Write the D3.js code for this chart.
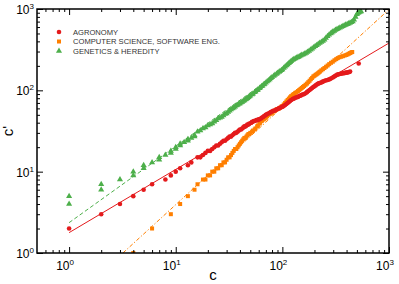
<!DOCTYPE html>
<html>
<head>
<meta charset="utf-8">
<script src="https://cdn.jsdelivr.net/npm/d3@7"></script>
<style>
  body { margin: 0; background: #fff; }
  svg { display: block; font-family: "Liberation Sans", Arial, sans-serif; }
</style>
</head>
<body>
<svg id="chart" width="399" height="284"></svg>
<script>
// [c, c'] pairs
const agronomy = [[1,2],[2,3],[3,4],[4,5],[5,6],[6,7],[8,8],[9,9],[10,10],[11,11],[13,12],[14,13],[16,15],[17,15],[18,16],[19,17],[20,18],[21,18],[22,19],[23,20],[24,21],[25,21],
  [26,22],[27,23],[28,24],[29,24],[30,25],[31,26],[32,27],[33,27],[34,28],[35,29],[36,30],[37,30],[38,31],[39,32],[40,33],[41,33],[42,34],[43,35],[44,36],[45,36],[46,37],[47,38],[48,38],[49,39],
  [51,40],[52,41],[54,42],[55,42],[57,43],[58,43],[60,44],[61,44],[63,45],[64,46],[66,47],[67,48],[69,49],[70,50],[72,51],[74,52],[76,53],[78,54],[80,55],[82,56],[84,56],[86,57],[88,58],[90,59],[93,60],[95,61],[98,62],
  [100,63],[103,64],[106,66],[109,68],[112,70],[115,72],[118,74],[121,76],[125,78],[128,79],[132,81],[136,82],[140,83],[144,85],[148,86],[152,88],[156,89],[160,90],[165,92],[170,95],[175,98],[180,101],[185,104],[190,107],[195,110],
  [200,112],[205,115],[210,118],[215,120],[220,122],[225,123],[231,125],[237,127],[243,129],[250,131],[258,133],[266,134],[273,136],[280,138],[288,141],[297,144],[304,147],[312,150],[320,153],[328,156],[336,158],[345,159],[353,160],[362,161],[371,162],[380,163],[389,164],[398,165],[406,166],[415,167],[423,168],[432,170],[520,214]];

const compSci = [[4,1],[6,2],[9,3],[11,4],[13,5],[15,6],[16,7],[18,8],[19,8],[20,9],[21,9],[22,10],[23,10],[24,11],[25,11],[26,12],[27,12],[28,13],[29,13],[30,14],[31,15],[32,15],[33,16],[34,17],[35,18],
  [36,19],[37,19],[38,20],[39,21],[40,22],[41,23],[42,24],[43,25],[44,26],[45,26],[46,27],[47,28],[48,29],[49,29],[50,30],[52,31],[53,32],[55,33],[56,34],[58,36],[59,37],[61,39],[62,40],[64,42],[65,43],[67,44],[68,45],
  [70,46],[72,48],[74,50],[76,51],[78,52],[80,53],[83,55],[85,56],[88,58],[90,59],[93,60],[95,61],[98,63],[100,64],[103,67],[106,70],[109,73],[112,76],[115,79],[118,82],[121,85],[125,88],[128,90],[132,93],[136,95],
  [140,98],[144,101],[148,104],[152,107],[156,110],[160,113],[165,117],[170,121],[175,126],[180,131],[185,137],[190,142],[195,148],[200,151],[205,155],[210,158],[215,162],[220,166],[225,170],[232,176],[240,182],[248,188],
  [257,195],[266,202],[275,210],[286,218],[297,225],[308,234],[320,242],[331,249],[343,255],[356,259],[370,263],[384,268],[398,272],[409,277],[420,282],[431,287],[442,292],[452,296]];

const genetics = [[1,5],[1,4],[2,7],[2,6],[3,8],[4,10],[4,9],[5,12],[5,11],[6,13],[7,15],[7,14],[8,16],[9,18],[9,17],[10,20],[10,19],[11,22],[11,21],[12,23],[13,25],[13,24],[14,26],[15,28],[15,27],
  [16,31],[17,32],[18,34],[19,35],[20,37],[21,38],[22,39],[23,41],[24,43],[25,45],[26,46],[27,47],[28,49],[29,51],[30,52],[31,54],[32,56],[33,58],[34,60],[35,61],[36,63],[37,65],[38,66],[39,68],[40,69],
  [41,71],[42,72],[43,74],[44,75],[45,77],[46,78],[47,80],[48,82],[49,84],[50,86],[52,89],[53,91],[55,95],[56,97],[58,100],[59,102],[61,106],[62,108],[64,112],[65,114],[67,118],[68,120],[70,124],[72,128],[74,132],
  [76,136],[78,141],[80,145],[83,150],[85,154],[88,159],[90,163],[93,168],[95,172],[98,176],[100,180],[103,188],[106,195],[109,202],[112,208],[115,215],[118,222],[121,229],[125,236],[128,241],[132,246],[136,251],
  [140,256],[144,261],[148,266],[152,271],[157,276],[162,282],[167,288],[172,296],[178,305],[184,315],[190,325],[196,336],[203,348],[210,359],[217,370],[224,381],[232,392],[240,404],[248,418],[256,440],[265,462],
  [274,481],[283,500],[290,512],[297,525],[306,538],[315,550],[325,562],[335,575],[346,588],[358,600],[369,612],[380,625],[392,638],[405,650],[417,661],[430,672],[443,686],[457,700],[470,740],[485,800],[500,860],
  [509,895],[520,905],[535,925],[548,930]];

const seriesNames = ["AGRONOMY", "COMPUTER SCIENCE, SOFTWARE ENG.", "GENETICS & HEREDITY"];

// power-law fits c' = a * c^b : [a, b]
const fitAgronomy = [1.78, 0.777];
const fitCompSci = [0.248, 1.2];
const fitGenetics = [2.36, 0.94];

const xMajor = [1, 10, 100, 1000];
const yMajor = [1, 10, 100, 1000];

const colors = {
  red: "#e41a1c",
  orange: "#ff7f00",
  green: "#4daf4a",
  axis: "#000",
  legendText: "#333"
};

const margin = { left: 37, right: 10, top: 9, bottom: 31 };
const width = 399, height = 284;

const svg = d3.select("#chart");

const x = d3.scaleLog().domain([0.5, 1000]).range([margin.left, width - margin.right]);
const y = d3.scaleLog().domain([1, 1000]).range([height - margin.bottom, margin.top]);

svg.append("clipPath").attr("id", "plot-clip")
  .append("rect")
  .attr("x", margin.left).attr("y", margin.top)
  .attr("width", x.range()[1] - margin.left)
  .attr("height", y.range()[0] - margin.top);

const plot = svg.append("g").attr("clip-path", "url(#plot-clip)");

// fit lines
function fitLine(fit, cStart, color, dash) {
  const cEnd = 1000;
  const pts = [cStart, Math.sqrt(cStart * cEnd), cEnd].map(c => [c, fit[0] * Math.pow(c, fit[1])]);
  plot.append("path")
    .attr("d", d3.line().x(d => x(d[0])).y(d => y(d[1]))(pts))
    .attr("fill", "none")
    .attr("stroke", color)
    .attr("stroke-width", 1)
    .attr("stroke-dasharray", dash);
}
fitLine(fitAgronomy, 1, colors.red, null);
fitLine(fitGenetics, 1, colors.green, "4,2.5");
fitLine(fitCompSci, Math.pow(1 / fitCompSci[0], 1 / fitCompSci[1]), colors.orange, "4,2,1.2,2");

// markers
const tri = d3.symbol().type(d3.symbolTriangle).size(16);
plot.selectAll(".gen").data(genetics).enter().append("path")
  .attr("d", tri)
  .attr("transform", d => `translate(${x(d[0])},${y(d[1])})`)
  .attr("fill", colors.green);

plot.selectAll(".cs").data(compSci).enter().append("rect")
  .attr("x", d => x(d[0]) - 2).attr("y", d => y(d[1]) - 2)
  .attr("width", 4).attr("height", 4)
  .attr("fill", colors.orange);

plot.selectAll(".agr").data(agronomy).enter().append("circle")
  .attr("cx", d => x(d[0])).attr("cy", d => y(d[1]))
  .attr("r", 2.3)
  .attr("fill", colors.red);

// axes
function minorTicks(scale) {
  const [lo, hi] = scale.domain();
  const out = [];
  for (let e = -1; e <= 3; e++) {
    for (let m = 2; m <= 9; m++) {
      const v = m * Math.pow(10, e);
      if (v > lo * 1.001 && v < hi * 0.999) out.push(v);
    }
  }
  return out;
}

const xB = height - margin.bottom, xT = margin.top;
const yL = margin.left, yR = width - margin.right;

function drawAxis(axis, transform) {
  const g = svg.append("g").attr("transform", transform).call(axis);
  g.select(".domain").remove();
  g.selectAll("line").attr("stroke", colors.axis).attr("stroke-width", 1);
  g.selectAll("text").remove();
}

drawAxis(d3.axisBottom(x).tickValues(xMajor).tickSize(-6), `translate(0,${xB})`);
drawAxis(d3.axisBottom(x).tickValues(minorTicks(x)).tickSize(-3), `translate(0,${xB})`);
drawAxis(d3.axisTop(x).tickValues(xMajor).tickSize(-6), `translate(0,${xT})`);
drawAxis(d3.axisTop(x).tickValues(minorTicks(x)).tickSize(-3), `translate(0,${xT})`);
drawAxis(d3.axisLeft(y).tickValues(yMajor).tickSize(-6), `translate(${yL},0)`);
drawAxis(d3.axisLeft(y).tickValues(minorTicks(y)).tickSize(-3), `translate(${yL},0)`);
drawAxis(d3.axisRight(y).tickValues(yMajor).tickSize(-6), `translate(${yR},0)`);
drawAxis(d3.axisRight(y).tickValues(minorTicks(y)).tickSize(-3), `translate(${yR},0)`);

svg.append("rect")
  .attr("x", yL).attr("y", xT)
  .attr("width", yR - yL).attr("height", xB - xT)
  .attr("fill", "none").attr("stroke", colors.axis).attr("stroke-width", 1.5);

// tick labels 10^n
function powerLabel(g, v) {
  const t = g.append("text").attr("fill", "#000").attr("font-size", 12);
  t.append("tspan").text("10");
  t.append("tspan").attr("font-size", 8).attr("dy", -5).text(Math.round(Math.log10(v)));
  return t;
}
xMajor.forEach(v => {
  powerLabel(svg, v).attr("x", x(v) - 4).attr("y", xB + 17).attr("text-anchor", "middle");
});
yMajor.forEach(v => {
  powerLabel(svg, v).attr("x", yL - 3).attr("y", y(v) + 5).attr("text-anchor", "end");
});

// axis titles
svg.append("text").attr("x", 213).attr("y", 280).attr("text-anchor", "middle")
  .attr("font-size", 15).text("c");
svg.append("text").attr("transform", "translate(13,131) rotate(-90)").attr("text-anchor", "middle")
  .attr("font-size", 15).text("c'");

// legend
const legend = svg.append("g").attr("font-size", 7.6).attr("fill", colors.legendText);
const legendY = [32, 41.5, 51];
legend.append("circle").attr("cx", 59).attr("cy", legendY[0]).attr("r", 2.3).attr("fill", colors.red);
legend.append("rect").attr("x", 57).attr("y", legendY[1] - 2).attr("width", 4).attr("height", 4).attr("fill", colors.orange);
legend.append("path").attr("d", tri).attr("transform", `translate(59,${legendY[2]})`).attr("fill", colors.green);
seriesNames.forEach((name, i) => {
  legend.append("text").attr("x", 73).attr("y", legendY[i] + 2.8).text(name);
});
</script>
</body>
</html>
